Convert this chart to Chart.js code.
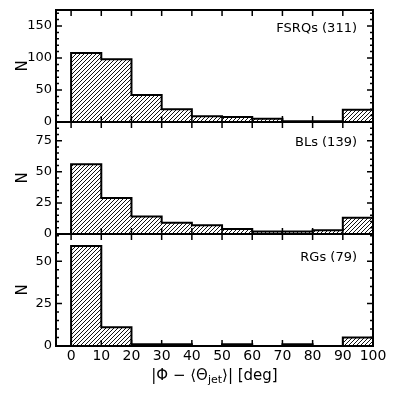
<!DOCTYPE html>
<html>
<head>
<meta charset="utf-8">
<script src="https://cdn.jsdelivr.net/npm/chart.js@4.4.1/dist/chart.umd.min.js"></script>
<style>
  body { margin: 0; background: #fff; }
  #wrap { position: relative; width: 395px; height: 395px; font-family: 'DejaVu Sans'; overflow: hidden; }
  canvas { position: absolute; left: 0; }
  #xtitle { position: absolute; left: 56px; width: 317px; top: 366px; text-align: center;
            font-size: 15px; line-height: 18px; color: #000; }
  #xtitle sub { font-size: 11px; vertical-align: -3px; line-height: 0; }
</style>
</head>
<body>
<div id="wrap">
  <canvas id="p1" width="395" height="144" style="top:-6px"></canvas>
  <canvas id="p2" width="395" height="144" style="top:106px"></canvas>
  <canvas id="p3" width="395" height="177" style="top:218px"></canvas>
  <div id="xtitle">|Φ − ⟨Θ<sub>jet</sub>⟩| [deg]</div>
</div>
<script>
// bin edges and histogram counts per class
const binEdges = [0, 10, 20, 30, 40, 50, 60, 70, 80, 90, 100];
const fsrqCounts = [108, 98, 42, 20, 9, 8, 5, 1, 1, 19];
const blCounts = [56, 29, 14, 9, 7, 4, 2, 2, 3, 13];
const rgCounts = [59, 11, 1, 1, 0, 1, 0, 1, 0, 5];

// tick labels
const xTicks = [0, 10, 20, 30, 40, 50, 60, 70, 80, 90, 100];
const fsrqYTicks = [0, 50, 100, 150];
const blYTicks = [0, 25, 50, 75];
const rgYTicks = [0, 25, 50];

Chart.defaults.font.family = 'DejaVu Sans';
Chart.defaults.color = '#000';

// diagonal hatch fill
const tile = document.createElement('canvas');
tile.width = 4; tile.height = 4;
const tc = tile.getContext('2d');
tc.fillStyle = '#fff';
tc.fillRect(0, 0, 4, 4);
tc.strokeStyle = '#111';
tc.lineWidth = 1;
tc.beginPath();
tc.moveTo(0, 4); tc.lineTo(4, 0);
tc.moveTo(-1, 1); tc.lineTo(1, -1);
tc.moveTo(3, 5); tc.lineTo(5, 3);
tc.stroke();
const hatch = tc.createPattern(tile, 'repeat');

function makePanel(id, counts, yMax, yTicks, minorStep, label, labelY, padTop, padBottom, showX) {
    // step outline points built from the bin edges
    const pts = [{x: binEdges[0], y: 0}];
    counts.forEach((c, i) => pts.push({x: binEdges[i], y: c}));
    pts.push({x: binEdges[binEdges.length - 1], y: 0});

    const framePlugin = {
        id: 'frame' + id,
        afterDraw(chart) {
            const {ctx, chartArea: a} = chart;
            const x = chart.scales.x, y = chart.scales.y;
            ctx.save();
            ctx.strokeStyle = '#000';
            ctx.lineWidth = 1.5;
            ctx.beginPath();
            xTicks.forEach(v => {
                const px = x.getPixelForValue(v);
                ctx.moveTo(px, a.bottom); ctx.lineTo(px, a.bottom - 6);
                ctx.moveTo(px, a.top); ctx.lineTo(px, a.top + 6);
            });
            for (let v = 0; v <= yMax; v += minorStep) {
                const py = y.getPixelForValue(v);
                const len = yTicks.includes(v) ? 6 : 3;
                ctx.moveTo(a.left, py); ctx.lineTo(a.left + len, py);
                ctx.moveTo(a.right, py); ctx.lineTo(a.right - len, py);
            }
            ctx.stroke();
            ctx.lineWidth = 2;
            ctx.strokeRect(a.left, a.top, a.right - a.left, a.bottom - a.top);
            ctx.fillStyle = '#000';
            ctx.font = '13px "DejaVu Sans"';
            ctx.textAlign = 'right';
            ctx.textBaseline = 'middle';
            ctx.fillText(label, 357, a.top + labelY);
            ctx.restore();
        }
    };

    new Chart(document.getElementById(id), {
        type: 'line',
        data: {
            datasets: [{
                data: pts,
                stepped: true,
                borderColor: '#000',
                borderWidth: 2,
                backgroundColor: hatch,
                fill: 'origin',
                pointRadius: 0
            }]
        },
        options: {
            responsive: false,
            animation: false,
            layout: {padding: {left: 0, right: 22, top: padTop, bottom: padBottom}},
            plugins: {legend: {display: false}, tooltip: {enabled: false}},
            scales: {
                x: {
                    type: 'linear',
                    min: -5,
                    max: 100,
                    display: showX,
                    afterBuildTicks: s => { s.ticks = xTicks.map(v => ({value: v})); },
                    afterFit: s => { s.height = showX ? 20 : 0; },
                    grid: {display: false, drawTicks: false},
                    border: {display: false},
                    ticks: {font: {size: 14}, color: '#000', padding: 2, maxRotation: 0, autoSkip: false}
                },
                y: {
                    min: 0,
                    max: yMax,
                    afterBuildTicks: s => { s.ticks = yTicks.map(v => ({value: v})); },
                    afterFit: s => { s.width = 56; },
                    grid: {display: false, drawTicks: false},
                    border: {display: false},
                    ticks: {font: {size: 13}, color: '#000', padding: 4},
                    title: {display: true, text: 'N', font: {size: 15}, color: '#000', padding: {top: 14, bottom: 0}}
                }
            }
        },
        plugins: [framePlugin]
    });
}

makePanel('p1', fsrqCounts, 175, fsrqYTicks, 10, 'FSRQs (311)', 19, 16, 16, false);
makePanel('p2', blCounts, 90, blYTicks, 5, 'BLs (139)', 21, 16, 16, false);
makePanel('p3', rgCounts, 66, rgYTicks, 5, 'RGs (79)', 24, 16, 29, true);
</script>
</body>
</html>
